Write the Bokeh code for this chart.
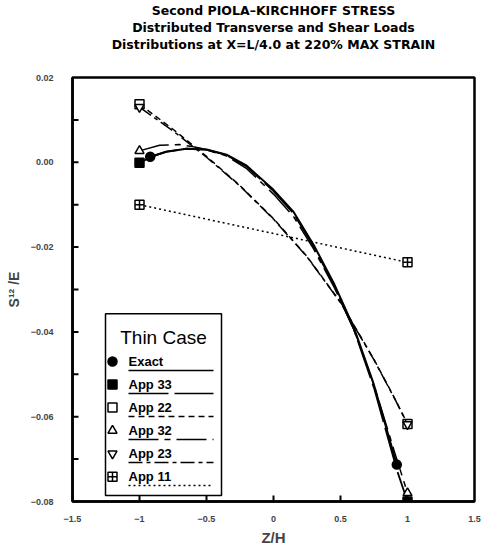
import math
from bokeh.plotting import figure
from bokeh.models import FixedTicker, CustomJSTickFormatter, Title, Range1d
from bokeh.core.properties import value
from bokeh.embed import file_html
from bokeh.resources import INLINE

FONT = "Liberation Sans"
TFONT = "DejaVu Sans"

title_lines = [
    "Second PIOLA\u2013KIRCHHOFF STRESS",
    "Distributed Transverse and Shear Loads",
    "Distributions at X=L/4.0 at 220% MAX STRAIN",
]
x_label = "Z/H"
y_label = "S\u00b9\u00b2 /E"
x_ticks = [-1.5, -1.0, -0.5, 0.0, 0.5, 1.0, 1.5]
y_ticks = [-0.08, -0.06, -0.04, -0.02, 0.0, 0.02]
y_minor = [-0.07, -0.05, -0.03, -0.01, 0.01]

legend_title = "Thin Case"

# series values
exact_z = [-0.92, -0.8, -0.65, -0.5, -0.35, -0.2, 0.0, 0.15, 0.3, 0.45, 0.6, 0.75, 0.92]
exact_s = [0.0013, 0.0025, 0.0032, 0.0030, 0.0018, -0.0008, -0.0065, -0.0117, -0.0195, -0.0285, -0.0390, -0.0525, -0.0713]

app33_z = [-1.0, -0.9, -0.8, -0.65, -0.5, -0.35, -0.2, 0.0, 0.15, 0.3, 0.45, 0.6, 0.75, 0.92, 1.0]
app33_s = [-0.0001, 0.0014, 0.0025, 0.0032, 0.0030, 0.0017, -0.0010, -0.0068, -0.0121, -0.0199, -0.0289, -0.0394, -0.0532, -0.0725, -0.0800]

app22_z = [-1.0, -0.75, -0.5, -0.25, 0.0, 0.25, 0.5, 0.75, 0.91, 1.0]
app22_s = [0.0137, 0.0078, 0.0014, -0.0055, -0.0133, -0.0222, -0.0330, -0.0465, -0.0560, -0.0617]

app32_z = [-1.0, -0.85, -0.7, -0.55, -0.35, -0.2, 0.0, 0.15, 0.3, 0.45, 0.6, 0.75, 0.9, 1.0]
app32_s = [0.0027, 0.0040, 0.0042, 0.0034, 0.0015, -0.0015, -0.0075, -0.0128, -0.0205, -0.0293, -0.0395, -0.0525, -0.0680, -0.0780]

app23_z = [-1.0, -0.75, -0.5, -0.25, 0.0, 0.25, 0.5, 0.75, 0.91, 1.0]
app23_s = [0.0130, 0.0074, 0.0012, -0.0056, -0.0134, -0.0223, -0.0331, -0.0466, -0.0561, -0.0618]

app11_z = [-1.0, 1.0]
app11_s = [-0.0100, -0.0236]

series = [
    # name, z, s, marker, filled, dash, width
    ("Exact", exact_z, exact_s, "circle", True, "solid", 2.0),
    ("App 33", app33_z, app33_s, "square", True, "40 6", 1.8),
    ("App 22", app22_z, app22_s, "square", False, "6 4", 1.5),
    ("App 32", app32_z, app32_s, "triangle", False, "30 6 6 6", 1.5),
    ("App 23", app23_z, app23_s, "inverted_triangle", False, "14 4 4 4", 1.5),
    ("App 11", app11_z, app11_s, "square_cross", False, "2 3", 1.5),
]

X0, X1 = -1.5, 1.5
Y0, Y1 = -0.08, 0.02
FL, FR, FT, FB = 72, 474, 76, 503

p = figure(width=481, height=548, title=None,
           x_range=Range1d(X0, X1), y_range=Range1d(Y0, Y1),
           output_backend="svg", toolbar_location=None,
           min_border_left=FL, min_border_right=481 - FR,
           min_border_top=FT, min_border_bottom=548 - FB)

def zx(px):
    return X0 + (px - FL) / (FR - FL) * (X1 - X0)

def zy(py):
    return Y1 - (py - FT) / (FB - FT) * (Y1 - Y0)

# title lines (stacked outward from the frame)
p.add_layout(Title(text=" ", text_font_size="12px"), "above")
for t in reversed(title_lines):
    p.add_layout(Title(text=t, align="center", text_font=TFONT, text_font_size="12.5px",
                       text_font_style="bold", text_color="black", standoff=0, offset=0), "above")

p.xgrid.visible = False
p.ygrid.visible = False
p.outline_line_color = "black"
p.outline_line_width = 2.5
p.background_fill_color = "white"
p.border_fill_color = "white"

for ax in (p.xaxis[0], p.yaxis[0]):
    ax.axis_line_width = 2.5
    ax.major_tick_line_color = None
    ax.minor_tick_line_color = None
    ax.major_tick_in = 0
    ax.major_tick_out = 0
    ax.major_label_text_font = FONT
    ax.major_label_text_font_style = "bold"
    ax.major_label_text_font_size = "9px"
    ax.axis_label_text_font = FONT
    ax.axis_label_text_font_style = "bold"

p.xaxis.ticker = FixedTicker(ticks=x_ticks)
p.yaxis.ticker = FixedTicker(ticks=y_ticks, minor_ticks=y_minor)
p.xaxis.formatter = CustomJSTickFormatter(code="""
    var v = Math.round(tick*10)/10;
    var s = (Math.abs(v) < 1e-9) ? '0' : String(v);
    return s.replace('-', '\u2212');
""")
p.yaxis.formatter = CustomJSTickFormatter(code="""
    var s = (Math.abs(tick) < 1e-9) ? '0.00' : tick.toFixed(2);
    return s.replace('-', '\u2212');
""")
p.xaxis.major_label_standoff = 14
p.yaxis.major_label_standoff = 15
p.xaxis.axis_label = x_label
p.yaxis.axis_label = y_label
p.xaxis.axis_label_text_font_size = "15px"
p.yaxis.axis_label_text_font_size = "14px"
p.xaxis.axis_label_standoff = 4
p.yaxis.axis_label_standoff = 6

# inward ticks
inner_x = [t for t in x_ticks if X0 < t < X1]
p.ray(x=inner_x, y=[Y0] * len(inner_x), length=6, length_units="screen",
      angle=math.pi / 2, line_color="black", line_width=2)
all_y = [t for t in sorted(y_ticks + y_minor) if Y0 < t < Y1]
p.ray(x=[X0] * len(all_y), y=all_y, length=6, length_units="screen",
      angle=0, line_color="black", line_width=2)

for name, z, s, marker, filled, dash, w in series:
    p.line(z, s, line_color="black", line_width=w, line_dash=dash)
    p.scatter([z[0], z[-1]], [s[0], s[-1]], marker=marker, size=9,
              line_color="black", line_width=1.5,
              fill_color="black" if filled else "white")

# legend box, placed by pixel positions
p.quad(left=[zx(105)], right=[zx(221)], top=[zy(314)], bottom=[zy(497)],
       fill_color="white", line_color="black", line_width=1.5)
p.text([zx(163)], [zy(338)], text=[legend_title], text_font=value(FONT),
       text_font_size="19px", text_align="center", text_baseline="middle", text_color="black")
row0, step = 362, 23.2
for i, (name, z, s, marker, filled, dash, w) in enumerate(series):
    py = row0 + i * step
    p.scatter([zx(112)], [zy(py)], marker=marker, size=9, line_color="black", line_width=1.5,
              fill_color="black" if filled else "white")
    p.text([zx(128)], [zy(py)], text=[name], text_font=value(FONT), text_font_style="bold",
           text_font_size="13px", text_align="left", text_baseline="middle", text_color="black")
    p.line([zx(128), zx(213)], [zy(py + 9), zy(py + 9)], line_color="black",
           line_width=1.5, line_dash=dash)

open("out.html", "w", encoding="utf-8").write(file_html(p, INLINE))
